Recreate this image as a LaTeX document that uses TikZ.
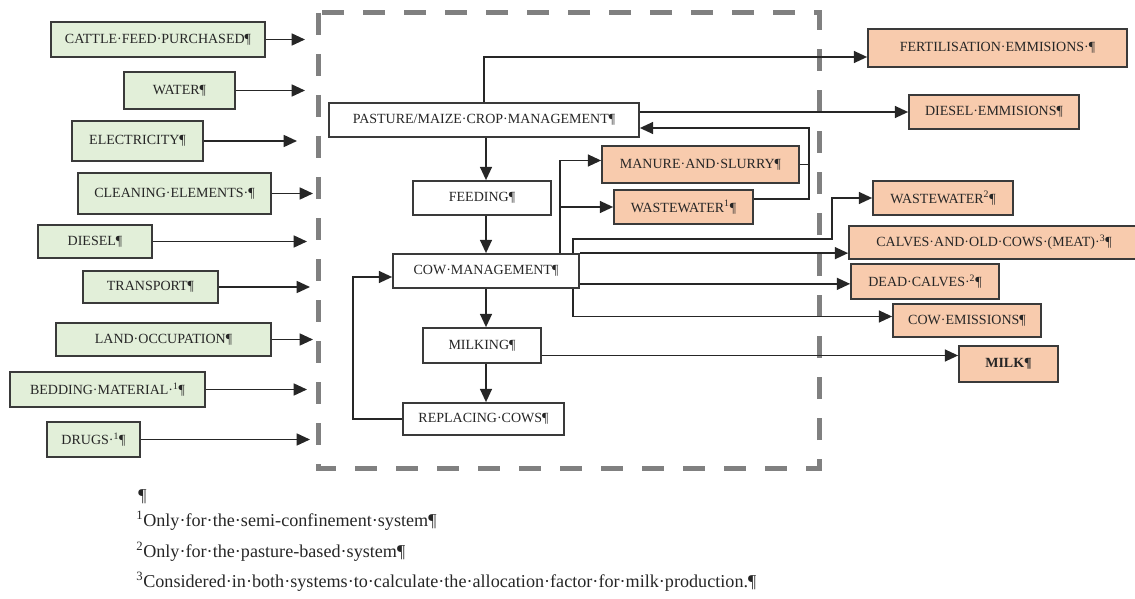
\documentclass[tikz,border=0pt]{standalone}
\usepackage{fontspec}
\setmainfont{Liberation Serif}
\usepackage{xcolor}
\usepackage{tikz}
\usetikzlibrary{arrows.meta,calc}

\definecolor{ingreen}{HTML}{E2EFD9}
\definecolor{outorange}{HTML}{F8CBAD}
\definecolor{edgegray}{HTML}{3A3A3A}
\definecolor{framegray}{HTML}{808080}

\tikzset{
    basebox/.style={draw=edgegray, line width=1.3pt, inner sep=0pt,
        font=\fontsize{10.5}{12}\selectfont, text=black!85},
    inbox/.style={basebox, fill=ingreen},
    outbox/.style={basebox, fill=outorange},
    procbox/.style={basebox, fill=white},
    wh/.style 2 args={minimum width=#1*0.75pt, minimum height=#2*0.75pt},
    flow/.style={-{Triangle[length=10pt,width=9pt]}, line width=1.2pt, draw=black!85},
    link/.style={line width=1.2pt, draw=black!85},
    frame/.style={draw=framegray, line width=3.75pt, dash pattern=on 16.5pt off 14.25pt},
    note/.style={anchor=west, inner sep=0pt, font=\fontsize{13.6}{15}\selectfont, text=black!85},
}

\begin{document}
\begin{tikzpicture}[x=0.75pt, y=-0.75pt]
    \useasboundingbox (0,0) rectangle (1135,599);

    % system boundary
    \draw[frame] (318,13) rectangle (819,468);

    % inputs
    \node [inbox, wh={214}{35}] (cattle) at (158,39.5) {CATTLE·FEED·PURCHASED¶};
    \node [inbox, wh={111}{37}] (water) at (179.5,90.5) {WATER¶};
    \node [inbox, wh={131}{40}] (electricity) at (137.5,141) {ELECTRICITY¶};
    \node [inbox, wh={193}{41}] (cleaning) at (174.5,193.5) {CLEANING·ELEMENTS·¶};
    \node [inbox, wh={114}{33}] (diesel) at (95,241.5) {DIESEL¶};
    \node [inbox, wh={135}{32}] (transport) at (150.5,287) {TRANSPORT¶};
    \node [inbox, wh={215}{33}] (land) at (163.5,339.5) {LAND·OCCUPATION¶};
    \node [inbox, wh={195}{35}] (bedding) at (107.5,389.5) {BEDDING·MATERIAL·\textsuperscript{1}¶};
    \node [inbox, wh={93}{35}] (drugs) at (93.5,439.5) {DRUGS·\textsuperscript{1}¶};

    \foreach \n/\x in {cattle/305, water/305, electricity/297, cleaning/313,
        diesel/307, transport/310, land/313, bedding/307, drugs/310}{
        \coordinate (\n-in) at (\n.east -| \x,0);
        \draw[flow] (\n.east) -- (\n-in);
    }

    % processes
    \node [procbox, wh={310}{34}] (pasture) at (484,120) {PASTURE/MAIZE·CROP·MANAGEMENT¶};
    \node [procbox, wh={138}{34}] (feeding) at (482,198) {FEEDING¶};
    \node [procbox, wh={186}{34}] (cow) at (486,271) {COW·MANAGEMENT¶};
    \node [procbox, wh={118}{35}] (milking) at (482,345.5) {MILKING¶};
    \node [procbox, wh={161}{32}] (replacing) at (483.5,419) {REPLACING·COWS¶};

    \draw[flow] (pasture.south -| cow.north) -- (feeding.north -| cow.north);
    \draw[flow] (feeding.south -| cow.north) -- (cow.north);
    \draw[flow] (cow.south) -- (milking.north -| cow.south);
    \draw[flow] (milking.south -| cow.south) -- (replacing.north -| cow.south);

    % replacement loop
    \coordinate (back) at ($(cow.west)+(-39,6)$);
    \draw[flow] (replacing.west) -| (back) -- (back -| cow.west);

    % outputs
    \node [outbox, wh={197}{37}] (manure) at (700.5,164.5) {MANURE·AND·SLURRY¶};
    \node [outbox, wh={139}{34}] (waste1) at (683.5,207) {WASTEWATER\textsuperscript{1}¶};
    \node [outbox, wh={259}{38}] (fert) at (997.5,48) {FERTILISATION·EMMISIONS·¶};
    \node [outbox, wh={170}{34}] (dieselem) at (994,112) {DIESEL·EMMISIONS¶};
    \node [outbox, wh={140}{34}] (waste2) at (943,198) {WASTEWATER\textsuperscript{2}¶};
    \node [outbox, wh={290}{33}] (calves) at (994,242.5) {CALVES·AND·OLD·COWS·(MEAT)·\textsuperscript{3}¶};
    \node [outbox, wh={148}{35}] (dead) at (925,281.5) {DEAD·CALVES·\textsuperscript{2}¶};
    \node [outbox, wh={148}{33}] (cowem) at (967,320.5) {COW·EMISSIONS¶};
    \node [outbox, wh={99}{36}] (milk) at (1008.5,364) {\textbf{MILK¶}};

    % crop outputs
    \draw[flow] (pasture.north) |- ($(fert.west)+(0,9)$);
    \draw[flow] (pasture.east |- dieselem.west) -- (dieselem.west);

    % manure and wastewater back to the crops
    \coordinate (ret) at ($(pasture.east)+(169,8)$);
    \draw[link] (manure.east) -- (manure.east -| ret);
    \draw[flow] ($(waste1.east)+(0,-8)$) -| (ret) -- (ret -| pasture.east);

    % cow outputs
    \coordinate (c1) at ($(cow.north)+(74,0)$);
    \draw[flow] (c1) |- ($(manure.west)+(0,-4)$);
    \draw[flow] (c1 |- waste1.west) -- (waste1.west);
    \coordinate (c2) at ($(cow.north)+(87,0)$);
    \draw[flow] (c2) |- ($(waste2.west)+(-40,41)$) |- (waste2.west);
    \draw[flow] (cow.north east) -- (cow.north east -| calves.west);
    \coordinate (c3) at ($(cow.south east)+(0,-5)$);
    \draw[flow] (c3) -- (c3 -| dead.west);
    \coordinate (c4) at ($(cow.south)+(87,0)$);
    \draw[flow] (c4) |- ($(cowem.west)+(0,-4)$);
    \coordinate (c5) at ($(milking.east)+(0,10)$);
    \draw[flow] (c5) -- (c5 -| milk.west);

    % notes
    \node [note] (fn0) at (138,497) {¶};
    \node [note] (fn1) at (136,521) {\textsuperscript{1}Only·for·the·semi-confinement·system¶};
    \node [note] (fn2) at (136,552) {\textsuperscript{2}Only·for·the·pasture-based·system¶};
    \node [note] (fn3) at (136,582) {\textsuperscript{3}Considered·in·both·systems·to·calculate·the·allocation·factor·for·milk·production.¶};
\end{tikzpicture}
\end{document}
